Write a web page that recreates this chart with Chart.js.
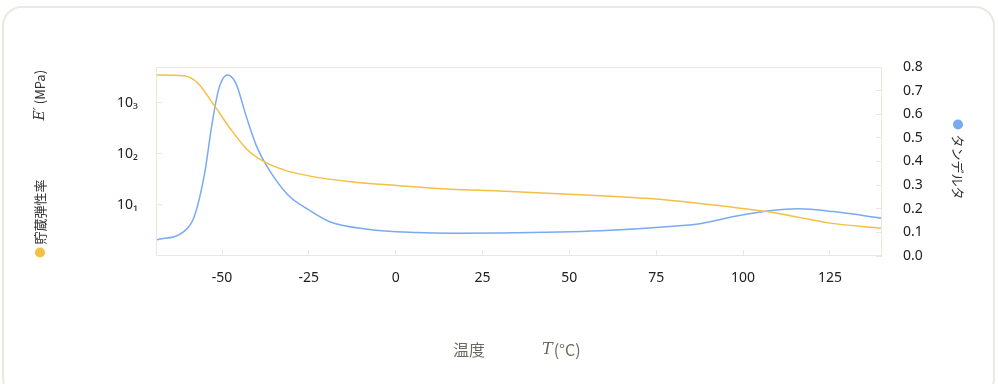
<!DOCTYPE html>
<html>
<head>
<meta charset="utf-8">
<script src="https://cdn.jsdelivr.net/npm/chart.js@4"></script>
<style>
    html, body { margin: 0; padding: 0; background: #fff; }
    .card {
        position: absolute; left: 2px; top: 6px; width: 993px; height: 392px;
        border: 2px solid #ebe8e2; border-radius: 20px; box-sizing: border-box;
    }
    #chart { position: absolute; left: 0; top: 0; }
</style>
</head>
<body>
<div class="card"></div>
<canvas id="chart" width="998" height="384"></canvas>
<script>
// storage modulus E' (MPa), log axis on the left
let tempE = [-69, -61, -57, -52, -48, -43, -38, -32, -25, -13, 1, 16, 30, 59, 78, 97, 107, 116, 125, 140];
let storageModulus = [3480, 3380, 2430, 836, 339, 126, 71, 48, 37, 28.5, 23.8, 20.2, 18.7, 15.1, 12.5, 9.0, 7.4, 5.7, 4.4, 3.5];

// tan delta, right axis
let tempTan = [-69, -61, -58, -55, -53, -51, -48.5, -46, -43, -40, -37, -31, -25, -19, -8, 6, 16, 30, 59, 78, 88, 97, 107, 116, 126, 140];
let tanDelta = [0.068, 0.103, 0.166, 0.35, 0.547, 0.703, 0.766, 0.731, 0.59, 0.463, 0.378, 0.258, 0.195, 0.145, 0.113, 0.099, 0.096, 0.097, 0.107, 0.124, 0.138, 0.166, 0.19, 0.2, 0.188, 0.16];

let xTicks = [-50, -25, 0, 25, 50, 75, 100, 125];
let leftTicks = [10, 100, 1000];
let leftTickLabels = ['10₁', '10₂', '10₃'];

let yellow = '#f3bf45';
let blue = '#7aaaf0';
let gridColor = '#ebe7de';
let tickFont = { family: '"Noto Sans", "Noto Sans CJK JP", sans-serif', size: 14 };

let boxAndTitles = {
    id: 'boxAndTitles',
    afterDraw(chart) {
        let ctx = chart.ctx;
        let a = chart.chartArea;
        ctx.save();
        ctx.strokeStyle = gridColor;
        ctx.lineWidth = 1;
        ctx.strokeRect(a.left + 0.5, a.top + 0.5, a.right - a.left - 1, a.bottom - a.top - 1);

        let jp = '"Noto Sans CJK JP", "Noto Sans", sans-serif';
        let midY = (a.top + a.bottom) / 2;
        ctx.textBaseline = 'middle';

        // left title: ● 貯蔵弾性率 ... E′ (MPa)
        ctx.save();
        ctx.translate(40, midY);
        ctx.rotate(-Math.PI / 2);
        ctx.fillStyle = yellow;
        ctx.beginPath();
        ctx.arc(-91, 0, 5, 0, Math.PI * 2);
        ctx.fill();
        ctx.fillStyle = '#333';
        ctx.font = '13px ' + jp;
        ctx.textAlign = 'left';
        ctx.fillText('貯蔵弾性率', -83, 0);
        ctx.font = 'italic 14px "DejaVu Serif", "Liberation Serif", serif';
        ctx.fillText('E′', 41, 0);
        let w = ctx.measureText('E′').width;
        ctx.font = '13px ' + jp;
        ctx.fillText(' (MPa)', 41 + w, 0);
        ctx.restore();

        // right title: ● タンデルタ
        ctx.save();
        ctx.translate(958, midY);
        ctx.rotate(Math.PI / 2);
        ctx.fillStyle = blue;
        ctx.beginPath();
        ctx.arc(-37, 0, 5, 0, Math.PI * 2);
        ctx.fill();
        ctx.fillStyle = '#333';
        ctx.font = '13px ' + jp;
        ctx.textAlign = 'left';
        ctx.fillText('タンデルタ', -27, 0);
        ctx.restore();

        // x title: 温度   T(°C)
        let midX = (a.left + a.right) / 2;
        ctx.fillStyle = '#6b6a60';
        ctx.textAlign = 'left';
        ctx.font = '16px ' + jp;
        ctx.fillText('温度', midX - 66, 350);
        ctx.font = 'italic 16px "DejaVu Serif", "Liberation Serif", serif';
        ctx.fillText('T', midX + 23, 350);
        let tw = ctx.measureText('T').width;
        ctx.font = '16px ' + jp;
        ctx.fillText('(°C)', midX + 23 + tw + 1, 350);
        ctx.restore();
    }
};

let chart = new Chart(document.getElementById('chart'), {
    type: 'line',
    data: {
        datasets: [{
            label: '貯蔵弾性率',
            data: tempE.map((t, i) => ({ x: t, y: storageModulus[i] })),
            yAxisID: 'y',
            borderColor: yellow,
            backgroundColor: yellow,
            borderWidth: 1.5,
            pointRadius: 0,
            cubicInterpolationMode: 'monotone',
            fill: false
        }, {
            label: 'タンデルタ',
            data: tempTan.map((t, i) => ({ x: t, y: tanDelta[i] })),
            yAxisID: 'y1',
            borderColor: blue,
            backgroundColor: blue,
            borderWidth: 1.5,
            pointRadius: 0,
            cubicInterpolationMode: 'monotone',
            fill: false
        }]
    },
    options: {
        responsive: false,
        animation: false,
        devicePixelRatio: 1,
        layout: { padding: { top: 67, left: 0, right: 0, bottom: 0 } },
        plugins: { legend: { display: false }, tooltip: { enabled: false } },
        scales: {
            x: {
                type: 'linear',
                position: 'bottom',
                min: -69,
                max: 140,
                afterBuildTicks: scale => { scale.ticks = xTicks.map(v => ({ value: v })); },
                afterFit: scale => { scale.height = 128; },
                ticks: { font: tickFont, color: '#222', padding: 20, maxRotation: 0 },
                grid: { drawOnChartArea: false, tickLength: -6, color: gridColor },
                border: { display: false }
            },
            y: {
                type: 'logarithmic',
                position: 'left',
                min: 1,
                max: 5000,
                afterBuildTicks: scale => { scale.ticks = leftTicks.map(v => ({ value: v })); },
                afterFit: scale => { scale.width = 156; },
                ticks: {
                    font: tickFont, color: '#222', padding: 24,
                    callback: v => leftTickLabels[leftTicks.indexOf(v)]
                },
                grid: { drawOnChartArea: false, tickLength: -6, color: gridColor },
                border: { display: false }
            },
            y1: {
                type: 'linear',
                position: 'right',
                min: 0,
                max: 0.8,
                afterFit: scale => { scale.width = 116; },
                ticks: {
                    stepSize: 0.1, font: tickFont, color: '#222', padding: 27,
                    callback: v => v.toFixed(1)
                },
                grid: { drawOnChartArea: false, tickLength: -6, color: gridColor },
                border: { display: false }
            }
        }
    },
    plugins: [boxAndTitles]
});
</script>
</body>
</html>
